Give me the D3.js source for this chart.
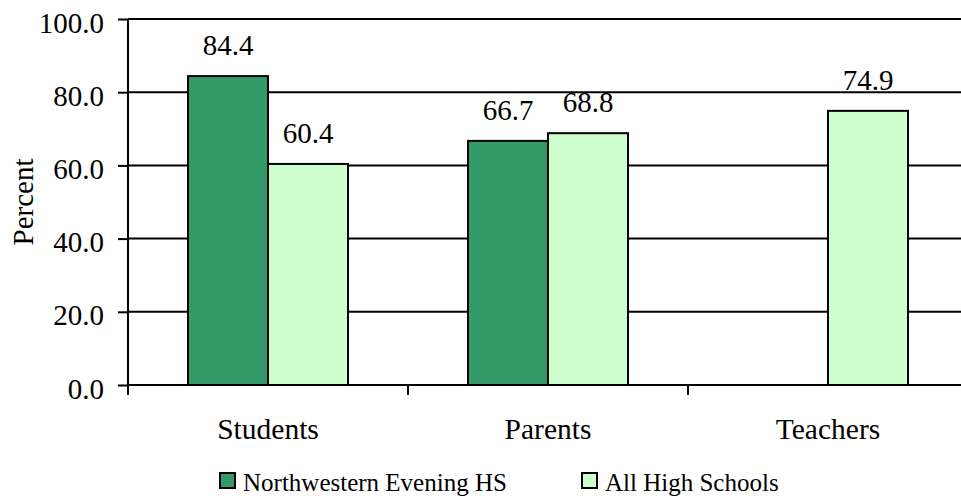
<!DOCTYPE html>
<html><head><meta charset="utf-8">
<script src="https://cdn.jsdelivr.net/npm/d3@7"></script>
</head><body style="margin:0"><svg id="c" width="961" height="502"></svg>
<script>
const categories = ["Students", "Parents", "Teachers"];
const seriesNames = ["Northwestern Evening HS", "All High Schools"];
const northwestern = [84.4, 66.7, null];
const allHighSchools = [60.4, 68.8, 74.9];
const yTicks = [0, 20, 40, 60, 80, 100];
const colors = ["#339966", "#CCFFCC"];
const FONT = '"Liberation Serif"';

const svg = d3.select("#c");
const x0 = 128, x1 = 968, yTop = 19, yBot = 385;
const x = d3.scaleBand().domain(categories).range([x0, x1]).paddingInner(0).paddingOuter(0);
const xs = d3.scaleBand().domain([0, 1]).range([0, 160]);
const y = d3.scaleLinear().domain([0, 100]).range([yBot, yTop]);

// gridlines
svg.append("g").selectAll("line").data(yTicks.filter(d => d > 0)).join("line")
  .attr("x1", x0).attr("x2", 961).attr("y1", d => y(d)).attr("y2", d => y(d))
  .attr("stroke", "#000").attr("stroke-width", 2);

const series = [northwestern, allHighSchools];
const bars = [];
series.forEach((vals, si) => vals.forEach((v, ci) => { if (v != null) bars.push({si, ci, v}); }));

const bx = d => x(categories[d.ci]) + (x.bandwidth() - 160) / 2 + xs(d.si);
svg.append("g").selectAll("rect").data(bars).join("rect")
  .attr("x", bx).attr("width", xs.bandwidth())
  .attr("y", d => y(d.v)).attr("height", d => y(0) - y(d.v))
  .attr("fill", d => colors[d.si]).attr("stroke", "#000").attr("stroke-width", 2);

svg.append("g").selectAll("text").data(bars).join("text")
  .attr("x", d => bx(d) + xs.bandwidth() / 2).attr("y", d => y(d.v) - 21)
  .attr("text-anchor", "middle").style("font-family", FONT).attr("font-size", 29)
  .attr("fill", "#000").text(d => d.v.toFixed(1));

// y axis
const ya = svg.append("g").attr("transform", `translate(${x0},0)`)
  .call(d3.axisLeft(y).tickValues(yTicks).tickFormat(d3.format(".1f")).tickSize(10).tickPadding(14));
ya.attr("font-family", null).attr("font-size", null);
ya.select(".domain").attr("stroke", "#000").attr("stroke-width", 2).attr("d", `M0,${yTop}V${yBot}`);
ya.selectAll(".tick line").attr("stroke", "#000").attr("stroke-width", 2);
ya.selectAll(".tick text").style("font-family", FONT).attr("font-size", 29).attr("fill", "#000").attr("dy", "0.45em");

// x axis
const xa = svg.append("g").attr("transform", `translate(0,${yBot})`)
  .call(d3.axisBottom(x).tickSize(0).tickPadding(0));
xa.attr("font-family", null).attr("font-size", null);
xa.select(".domain").attr("stroke", "#000").attr("stroke-width", 2).attr("d", `M${x0},0H961`);
xa.selectAll(".tick text").style("font-family", FONT).attr("font-size", 29.5).attr("fill", "#000")
  .attr("dy", null).attr("y", 54);
svg.append("g").selectAll("line").data(categories).join("line")
  .attr("x1", d => x(d)).attr("x2", d => x(d)).attr("y1", yBot).attr("y2", yBot + 10)
  .attr("stroke", "#000").attr("stroke-width", 2);

svg.append("text").attr("transform", `translate(33,202) rotate(-90)`)
  .attr("text-anchor", "middle").style("font-family", FONT).attr("font-size", 29).attr("fill", "#000").text("Percent");

// legend
const legX = [220, 582];
const lg = svg.append("g").selectAll("g").data(seriesNames).join("g")
  .attr("transform", (d, i) => `translate(${legX[i]},473)`);
lg.append("rect").attr("width", 15).attr("height", 15).attr("fill", (d, i) => colors[i])
  .attr("stroke", "#000").attr("stroke-width", 2);
lg.append("text").attr("x", 23).attr("y", 18).style("font-family", FONT).attr("font-size", 25).attr("fill", "#000").text(d => d);
</script></body></html>
